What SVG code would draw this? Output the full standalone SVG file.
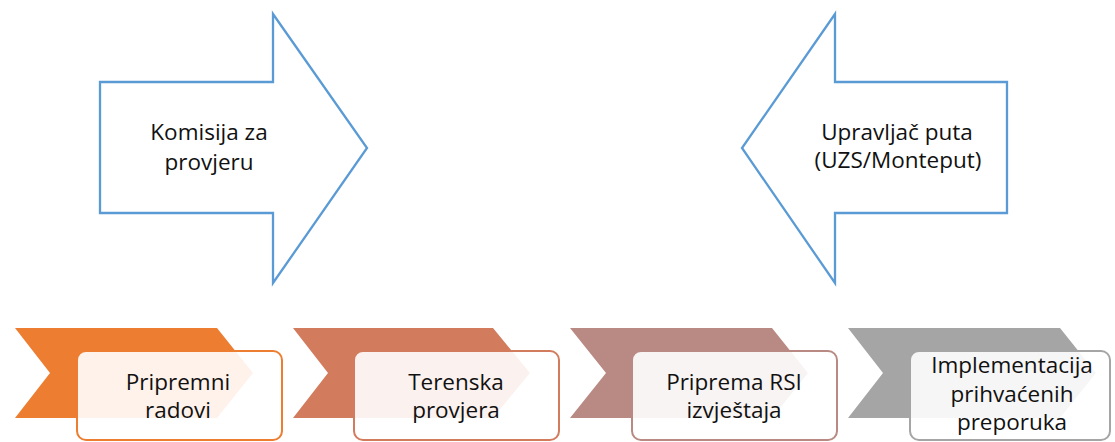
<svg xmlns="http://www.w3.org/2000/svg" width="1115" height="442" viewBox="0 0 1115 442">
<style>
.big{fill:#fff;stroke:#5B9BD5;stroke-width:2.3;stroke-linejoin:miter}
.t{font-family:"Open Sans","Liberation Sans",sans-serif;font-size:22.5px;fill:#111;text-anchor:middle}
.box{fill:#fff;fill-opacity:0.9;stroke-width:2}
</style>
<rect width="1115" height="442" fill="#fff"/>
<g id="komisija">
<path class="big" d="M100,82 H273 V14 L367,148 L273,283 V213 H100 Z"/>
<text class="t" x="209" y="140">Komisija za</text>
<text class="t" x="209" y="170">provjeru</text>
</g>
<g id="upravljac">
<path class="big" d="M1007,82 H835 V14 L742,148 L835,283 V213 H1007 Z"/>
<text class="t" x="897" y="140">Upravljač puta</text>
<text class="t" x="898" y="168">(UZS/Monteput)</text>
</g>
<g id="step1">
<path fill="#ED7D31" d="M15,328 H217 L253,373 L217,418 H15 L50,373 Z"/>
<rect class="box" x="77" y="351" width="205" height="89" rx="9" stroke="#ED7D31"/>
<text class="t" x="178" y="390">Pripremni</text>
<text class="t" x="178" y="418">radovi</text>
</g>
<g id="step2">
<path fill="#D27B5D" d="M293,328 H493 L530,373 L493,418 H293 L328,373 Z"/>
<rect class="box" x="354" y="351" width="205" height="89" rx="9" stroke="#D27B5D"/>
<text class="t" x="456" y="390">Terenska</text>
<text class="t" x="456" y="418">provjera</text>
</g>
<g id="step3">
<path fill="#B98A83" d="M570,328 H772 L808,373 L772,418 H570 L606,373 Z"/>
<rect class="box" x="632" y="351" width="205" height="89" rx="9" stroke="#B98A83"/>
<text class="t" x="734" y="390">Priprema RSI</text>
<text class="t" x="734" y="418">izvještaja</text>
</g>
<g id="step4">
<path fill="#A5A5A5" d="M848,328 H1060 L1096,373 L1060,418 H848 L883,373 Z"/>
<rect class="box" x="910" y="351" width="200" height="89" rx="9" stroke="#A5A5A5"/>
<text class="t" x="1012" y="373">Implementacija</text>
<text class="t" x="1012" y="402">prihvaćenih</text>
<text class="t" x="1012" y="430">preporuka</text>
</g>
<g id="connectors"></g>
</svg>
